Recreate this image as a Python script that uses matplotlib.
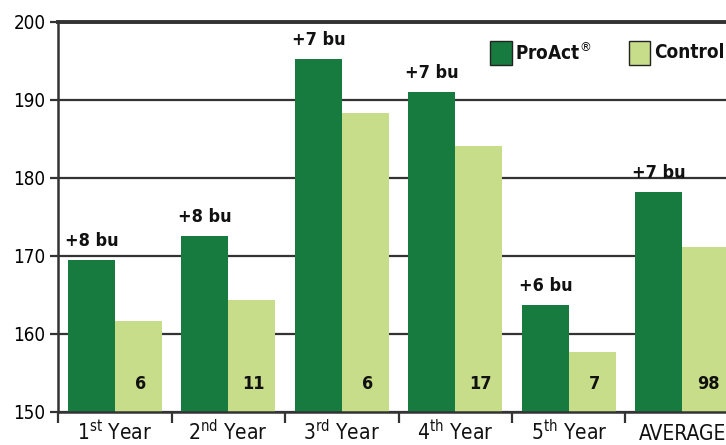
import numpy as np
import matplotlib.pyplot as plt

# Yield data (bu/acre)
years = [r'1$^{\mathrm{st}}$ Year', r'2$^{\mathrm{nd}}$ Year', r'3$^{\mathrm{rd}}$ Year',
         r'4$^{\mathrm{th}}$ Year', r'5$^{\mathrm{th}}$ Year', 'AVERAGE']
proact = [169.5, 172.5, 195.3, 191.0, 163.7, 178.2]
control = [161.7, 164.4, 188.3, 184.1, 157.7, 171.2]
gains = ['+8 bu', '+8 bu', '+7 bu', '+7 bu', '+6 bu', '+7 bu']
trials = ['6', '11', '6', '17', '7', '98']

dark = '#177a3e'
light = '#c8dd8a'

plt.rcParams['font.family'] = ['DejaVu Sans']
plt.rcParams['font.stretch'] = 'condensed'
plt.rcParams['mathtext.fontset'] = 'custom'
plt.rcParams['mathtext.rm'] = 'DejaVu Sans:stretch=condensed'

fig = plt.figure(figsize=(7.26, 4.45), dpi=100)
ax = fig.add_axes([0.0799, 0.0742, 0.938, 0.8764])

x = np.arange(len(years))
w = 0.412
ax.bar(x - w / 2, np.array(proact) - 150, w, bottom=150, color=dark, zorder=3)
ax.bar(x + w / 2, np.array(control) - 150, w, bottom=150, color=light, zorder=3)

# gain labels above ProAct bars, trial counts inside control bars
for i in range(len(years)):
    ax.text(x[i] - w - 0.03, proact[i] + 1.3, gains[i], fontsize=13, fontweight='bold',
            ha='left', va='bottom', color='#111111', zorder=4)
    ax.text(x[i] + w / 2 + 0.02, 152.4, trials[i], fontsize=13, fontweight='bold',
            ha='center', va='bottom', color='#111111', zorder=4)

ax.set_ylim(150, 200)
ax.set_xlim(-0.5, len(years) - 0.5)
ax.set_yticks([150, 160, 170, 180, 190, 200])
ax.yaxis.grid(True, color='#333333', linewidth=1.6, zorder=0)
ax.tick_params(axis='y', direction='out', length=6, width=1.6, color='#333333',
               labelsize=13.5, pad=3)

# category labels drawn on a common baseline (mathtext superscripts shift tick labels)
ax.set_xticks(x)
ax.set_xticklabels([])
ax.tick_params(axis='x', which='major', length=0)
for i, lab in enumerate(years):
    ax.text(x[i], -0.072, lab, transform=ax.get_xaxis_transform(), fontsize=15,
            ha='center', va='baseline', color='#111111')
ax.set_xticks(np.arange(-0.5, len(years)), minor=True)
ax.tick_params(axis='x', which='minor', direction='out', length=8, width=1.6, color='#333333')

ax.spines['right'].set_visible(False)
ax.spines['top'].set_linewidth(2.8)
ax.spines['top'].set_color('#333333')
ax.spines['left'].set_linewidth(1.8)
ax.spines['left'].set_color('#333333')
ax.spines['bottom'].set_linewidth(1.8)
ax.spines['bottom'].set_color('#333333')
ax.spines['bottom'].set_zorder(5)

# legend in the top-right corner
leg_items = [(dark, r'ProAct$^{®}$'), (light, 'Control')]
lx = [0.675, 0.866]
for (c, lab), xx in zip(leg_items, lx):
    fig.patches.append(plt.Rectangle((xx, 0.855), 0.03, 0.052, transform=fig.transFigure,
                                     facecolor=c, edgecolor='#222222', linewidth=1))
    fig.text(xx + 0.035, 0.881, lab, fontsize=13.6, fontweight='bold', va='center',
             ha='left', color='#111111')

fig.savefig('out.png', dpi=100)
